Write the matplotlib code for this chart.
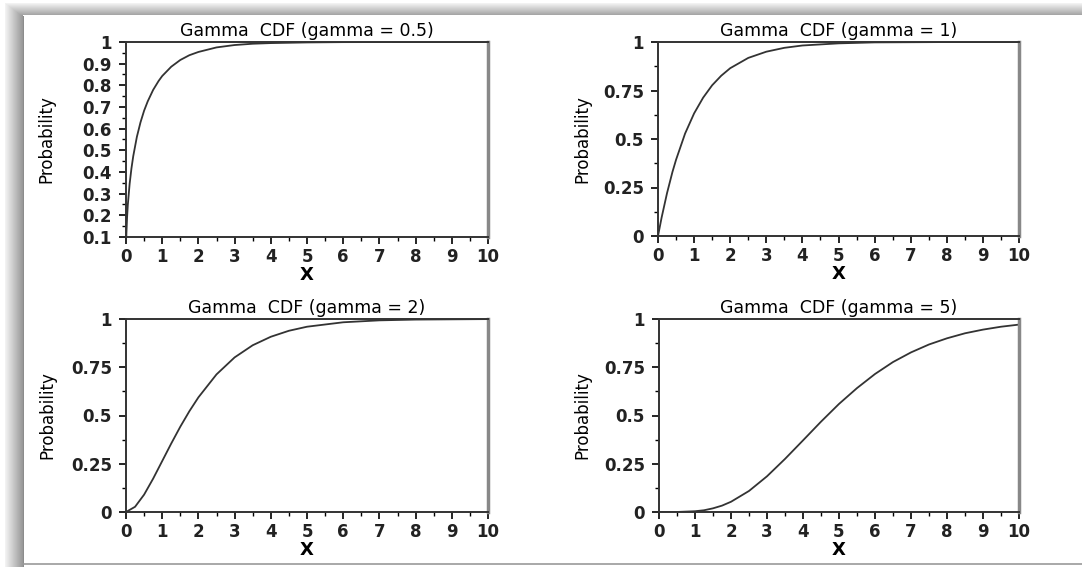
import numpy as np
import matplotlib.pyplot as plt
from matplotlib.patches import Rectangle
from matplotlib.ticker import MultipleLocator

# Values
x_g05 = [0.0, 0.01, 0.03, 0.05, 0.1, 0.15, 0.2, 0.3, 0.4, 0.5, 0.6, 0.75, 0.9, 1.0, 1.25, 1.5, 1.75,
         2.0, 2.5, 3.0, 3.5, 4.0, 5.0, 6.0, 8.0, 10.0]
y_g05 = [0.0, 0.112, 0.192, 0.248, 0.345, 0.416, 0.473, 0.562, 0.629, 0.683, 0.726, 0.779, 0.820,
         0.843, 0.886, 0.917, 0.939, 0.954, 0.975, 0.986, 0.992, 0.995, 0.998, 0.9994, 0.9999, 1.0]

x_g1 = [0.0, 0.1, 0.25, 0.4, 0.5, 0.75, 1.0, 1.25, 1.5, 1.75, 2.0, 2.5, 3.0, 3.5, 4.0, 5.0, 6.0, 8.0, 10.0]
y_g1 = [0.0, 0.095, 0.221, 0.330, 0.393, 0.528, 0.632, 0.713, 0.777, 0.826, 0.865, 0.918, 0.950,
        0.970, 0.982, 0.993, 0.998, 0.9997, 1.0]

x_g2 = [0.0, 0.25, 0.5, 0.75, 1.0, 1.25, 1.5, 1.75, 2.0, 2.5, 3.0, 3.5, 4.0, 4.5, 5.0, 6.0, 7.0, 8.0, 10.0]
y_g2 = [0.0, 0.027, 0.090, 0.173, 0.264, 0.355, 0.442, 0.522, 0.594, 0.713, 0.801, 0.864, 0.908,
        0.939, 0.960, 0.983, 0.993, 0.997, 0.9995]

x_g5 = [0.0, 0.5, 1.0, 1.25, 1.5, 1.75, 2.0, 2.5, 3.0, 3.5, 4.0, 4.5, 5.0, 5.5, 6.0, 6.5, 7.0, 7.5,
        8.0, 8.5, 9.0, 9.5, 10.0]
y_g5 = [0.0, 0.0002, 0.004, 0.009, 0.019, 0.033, 0.053, 0.109, 0.185, 0.275, 0.371, 0.468, 0.560,
        0.642, 0.715, 0.777, 0.827, 0.868, 0.900, 0.926, 0.945, 0.960, 0.971]

titles = ['Gamma  CDF (gamma = 0.5)', 'Gamma  CDF (gamma = 1)',
          'Gamma  CDF (gamma = 2)', 'Gamma  CDF (gamma = 5)']
series = [(x_g05, y_g05), (x_g1, y_g1), (x_g2, y_g2), (x_g5, y_g5)]

W, H = 1082, 567
plt.rcParams['font.family'] = ['DejaVu Sans']
fig = plt.figure(figsize=(W / 100, H / 100), dpi=100)

# window-like frame: gray shaded bars on the left and top
bg = fig.add_axes([0, 0, 1, 1])
bg.set_xlim(0, W)
bg.set_ylim(H, 0)
bg.axis('off')
for i in range(18):
    g = 0.95 - 0.35 * (i / 17)
    bg.add_patch(Rectangle((5 + i, 3 + i * 0.7), 1, H, color=str(g), lw=0))
for i in range(12):
    g = 0.95 - 0.3 * (i / 11)
    bg.add_patch(Rectangle((5 + i * 1.4, 3 + i), W, 1, color=str(g), lw=0))
bg.add_patch(Rectangle((23, 16), W, H - 18, color='white', lw=0))
bg.add_patch(Rectangle((23, 16), 1, H, color='0.55', lw=0))
bg.plot([23, W], [564, 564], color='0.6', lw=1.2)

# axes boxes in pixels: left, right, top, bottom, y-label x position
boxes = [(126, 488, 42, 237, 46), (658, 1019, 42, 236, 582),
         (126, 488, 319, 512, 47), (659, 1019, 319, 512, 582)]

for k, ((xs, ys), (l, r, t, b, ylx)) in enumerate(zip(series, boxes)):
    ax = fig.add_axes([l / W, 1 - b / H, (r - l) / W, (b - t) / H])
    ax.plot(xs, ys, color='#333333', lw=1.3)
    ax.set_xlim(0, 10)
    ax.xaxis.set_major_locator(MultipleLocator(1))
    ax.xaxis.set_minor_locator(MultipleLocator(0.5))
    if k == 0:
        ax.set_ylim(0.1, 1)
        ax.set_yticks(np.arange(0.1, 1.01, 0.1))
        ax.set_yticklabels(['0.1', '0.2', '0.3', '0.4', '0.5', '0.6', '0.7', '0.8', '0.9', '1'])
        ax.yaxis.set_minor_locator(MultipleLocator(0.05))
    else:
        ax.set_ylim(0, 1)
        ax.set_yticks([0, 0.25, 0.5, 0.75, 1])
        ax.set_yticklabels(['0', '0.25', '0.5', '0.75', '1'])
        ax.yaxis.set_minor_locator(MultipleLocator(0.125))
    ax.tick_params(which='major', direction='out', length=5, width=1.2, labelsize=12,
                   pad=5, labelcolor='#222222')
    ax.tick_params(axis='x', which='major', pad=3)
    ax.tick_params(which='minor', direction='out', length=3, width=1.0)
    for lab in ax.get_xticklabels() + ax.get_yticklabels():
        lab.set_fontweight('bold')
    for side in ['left', 'bottom', 'top']:
        ax.spines[side].set_linewidth(1.4)
        ax.spines[side].set_color('#333333')
    ax.spines['right'].set_linewidth(2.5)
    ax.spines['right'].set_color('#888888')
    ax.set_title(titles[k], fontsize=12.5, pad=4)
    ax.set_xlabel('X', fontsize=13, fontweight='bold')
    ax.xaxis.set_label_coords(0.5, -38 / (b - t))
    ax.xaxis.label.set_va('center')
    ax.set_ylabel('Probability', fontsize=12)
    ax.yaxis.set_label_coords((ylx - l) / (r - l), 0.5)
    ax.yaxis.label.set_va('center')

plt.savefig('out.png', dpi=100)
